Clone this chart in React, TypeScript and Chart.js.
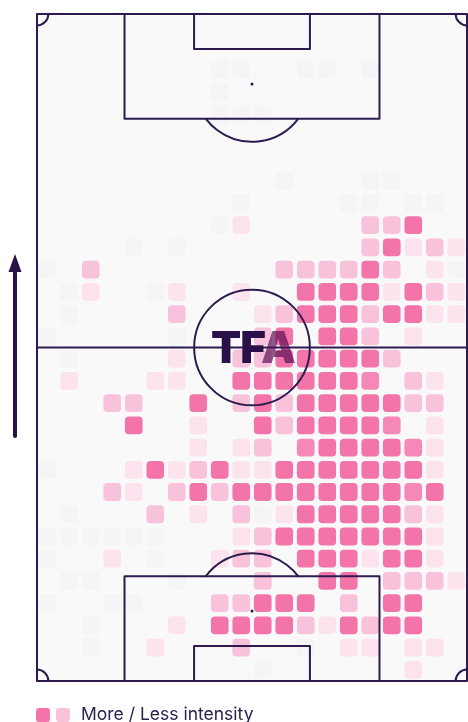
import { useEffect, useRef } from 'react';
import { Chart, registerables } from 'chart.js';

Chart.register(...registerables);

// Pitch dimensions (metres) and grid
const PITCH_WIDTH = 68;
const PITCH_LENGTH = 105;
const COLS = 20;
const ROWS = 30;

// Intensity per cell, rows top -> bottom, columns left -> right (0 = empty, 5 = most)
const intensityRows: number[][] = [
  [0,0,0,0,0,0,0,0,0,0,0,0,0,0,0,0,0,0,0,0],
  [0,0,0,0,0,0,0,0,0,0,0,0,0,0,0,0,0,0,0,0],
  [0,0,0,0,0,0,0,0,1,1,0,0,1,1,0,1,0,0,0,0],
  [0,0,0,0,0,0,0,0,1,0,0,0,0,0,0,0,0,0,0,0],
  [0,0,0,0,0,0,0,0,1,1,1,0,0,0,0,0,0,0,0,0],
  [0,0,0,0,0,0,0,0,0,0,0,0,0,0,0,0,0,0,0,0],
  [0,0,0,0,0,0,0,0,0,0,0,0,0,0,0,0,0,0,0,0],
  [0,0,0,0,0,0,0,0,0,0,0,1,0,0,0,1,1,0,0,0],
  [0,0,0,0,0,0,0,0,0,1,0,0,0,0,1,1,0,1,1,0],
  [0,0,0,0,0,0,0,0,1,2,0,0,0,0,0,3,3,5,0,0],
  [0,0,0,0,1,0,1,0,0,0,0,0,0,0,0,3,5,2,3,2],
  [1,0,3,0,0,0,0,0,0,0,0,3,3,3,3,5,3,0,2,1],
  [0,1,2,0,0,1,2,0,0,2,0,0,5,5,5,5,2,5,3,2],
  [0,1,0,0,0,0,3,0,0,0,2,3,5,5,5,3,5,5,2,2],
  [1,0,0,0,0,0,1,0,0,0,3,5,0,5,5,3,0,2,0,0],
  [0,1,0,0,0,0,2,0,0,3,3,5,5,5,5,5,3,0,0,0],
  [0,2,0,0,0,2,2,0,0,5,5,5,5,5,5,4,0,3,2,0],
  [0,0,0,3,3,0,0,5,0,3,5,3,5,5,5,5,5,3,3,0],
  [0,0,0,0,5,0,0,2,0,0,5,3,5,5,5,5,4,0,2,0],
  [0,0,0,0,0,0,0,2,0,2,3,0,4,5,5,5,5,4,2,0],
  [1,0,0,0,2,5,2,3,5,2,2,5,5,5,5,5,5,5,2,0],
  [0,0,0,3,2,0,3,5,3,5,5,5,5,5,5,5,5,4,5,0],
  [0,1,0,0,0,3,0,2,0,3,1,2,5,5,5,5,5,3,2,0],
  [1,1,1,1,1,1,0,0,0,2,3,5,5,5,5,5,5,5,2,0],
  [1,0,0,2,0,1,0,0,2,3,3,0,5,5,5,2,5,5,2,0],
  [0,1,1,0,0,0,1,0,0,0,3,0,0,5,5,0,3,3,3,2],
  [1,0,0,1,1,0,0,0,3,3,5,5,5,0,3,0,5,5,0,0],
  [0,0,1,0,0,0,2,0,5,5,5,5,3,2,5,3,5,5,0,0],
  [0,0,1,0,0,2,0,0,0,3,0,0,1,0,2,2,0,2,2,0],
  [0,0,0,0,0,0,0,0,0,0,1,0,0,0,0,0,0,2,0,0],
];

const levelColors = ['rgba(0,0,0,0)', '#f5f4f6', '#fce3ee', '#f9c2db', '#f588b7', '#f374a9'];
const legendColors = ['#f374a9', '#f9c2db'];
const legendLabel = 'More / Less intensity';
const logoLetters = ['T', 'F', 'A'];

const LINE = '#2d1b50';
const PITCH_BG = '#f9f9fa';

type Cell = { x: number; y: [number, number]; v: number };

function buildCells(): Cell[] {
  const cw = PITCH_WIDTH / COLS;
  const rh = PITCH_LENGTH / ROWS;
  const inset = 0.4;
  const cells: Cell[] = [];
  intensityRows.forEach((row, r) => {
    row.forEach((v, c) => {
      if (v > 0) {
        cells.push({ x: (c + 0.5) * cw, y: [r * rh + inset, (r + 1) * rh - inset], v });
      }
    });
  });
  return cells;
}

const pitchPlugin = {
  id: 'pitch',
  beforeDatasetsDraw(chart: any) {
    const { ctx, chartArea: a } = chart;
    ctx.save();
    ctx.fillStyle = PITCH_BG;
    ctx.fillRect(a.left, a.top, a.right - a.left, a.bottom - a.top);
    ctx.restore();
  },
  afterDatasetsDraw(chart: any) {
    const { ctx } = chart;
    const xs = chart.scales.x;
    const ys = chart.scales.y;
    const X = (v: number) => xs.getPixelForValue(v);
    const Y = (v: number) => ys.getPixelForValue(v);
    const m = (X(PITCH_WIDTH) - X(0)) / PITCH_WIDTH;
    const my = (Y(PITCH_LENGTH) - Y(0)) / PITCH_LENGTH;
    const cx = X(PITCH_WIDTH / 2);
    ctx.save();
    ctx.strokeStyle = LINE;
    ctx.fillStyle = LINE;
    ctx.lineWidth = 2;
    ctx.lineJoin = 'round';
    ctx.lineCap = 'round';

    // outline
    ctx.strokeRect(X(0), Y(0), X(PITCH_WIDTH) - X(0), Y(PITCH_LENGTH) - Y(0));
    // halfway line
    ctx.beginPath();
    ctx.moveTo(X(0), Y(PITCH_LENGTH / 2));
    ctx.lineTo(X(PITCH_WIDTH), Y(PITCH_LENGTH / 2));
    ctx.stroke();
    // centre circle
    ctx.beginPath();
    ctx.arc(cx, Y(PITCH_LENGTH / 2), 9.15 * m, 0, Math.PI * 2);
    ctx.stroke();

    const boxHalf = 20.16;
    const boxDepth = 16.5;
    const goalHalf = 9.16;
    const goalDepth = 5.5;
    const spot = 11;
    const arcR = 9.15 * m;

    [0, PITCH_LENGTH].forEach((end) => {
      const dir = end === 0 ? 1 : -1;
      // penalty box
      ctx.beginPath();
      ctx.moveTo(X(34 - boxHalf), Y(end));
      ctx.lineTo(X(34 - boxHalf), Y(end + dir * boxDepth));
      ctx.lineTo(X(34 + boxHalf), Y(end + dir * boxDepth));
      ctx.lineTo(X(34 + boxHalf), Y(end));
      ctx.stroke();
      // goal area
      ctx.beginPath();
      ctx.moveTo(X(34 - goalHalf), Y(end));
      ctx.lineTo(X(34 - goalHalf), Y(end + dir * goalDepth));
      ctx.lineTo(X(34 + goalHalf), Y(end + dir * goalDepth));
      ctx.lineTo(X(34 + goalHalf), Y(end));
      ctx.stroke();
      // penalty spot
      ctx.beginPath();
      ctx.arc(cx, Y(end + dir * spot), 1.5, 0, Math.PI * 2);
      ctx.fill();
      // penalty arc
      const a0 = Math.asin(((boxDepth - spot) * my) / arcR);
      ctx.beginPath();
      if (dir === 1) ctx.arc(cx, Y(end + spot), arcR, a0, Math.PI - a0);
      else ctx.arc(cx, Y(end - spot), arcR, Math.PI + a0, Math.PI * 2 - a0);
      ctx.stroke();
    });

    // corner arcs
    const cr = 1.8 * m;
    ctx.beginPath(); ctx.arc(X(0), Y(0), cr, 0, Math.PI / 2); ctx.stroke();
    ctx.beginPath(); ctx.arc(X(PITCH_WIDTH), Y(0), cr, Math.PI / 2, Math.PI); ctx.stroke();
    ctx.beginPath(); ctx.arc(X(0), Y(PITCH_LENGTH), cr, -Math.PI / 2, 0); ctx.stroke();
    ctx.beginPath(); ctx.arc(X(PITCH_WIDTH), Y(PITCH_LENGTH), cr, Math.PI, Math.PI * 1.5); ctx.stroke();
    ctx.restore();
  },
  afterDraw(chart: any) {
    // direction-of-play arrow
    const { ctx } = chart;
    ctx.save();
    ctx.strokeStyle = '#2a1246';
    ctx.fillStyle = '#2a1246';
    ctx.lineWidth = 4;
    ctx.lineCap = 'round';
    ctx.beginPath();
    ctx.moveTo(15, 436);
    ctx.lineTo(15, 268);
    ctx.stroke();
    ctx.beginPath();
    ctx.moveTo(15, 254);
    ctx.lineTo(21.5, 272);
    ctx.lineTo(8.5, 272);
    ctx.closePath();
    ctx.fill();
    ctx.restore();
  },
};

export default function App() {
  const ref = useRef<HTMLCanvasElement>(null);

  useEffect(() => {
    if (!ref.current) return;
    const cells = buildCells();
    const chart = new Chart(ref.current, {
      type: 'bar',
      data: {
        datasets: [
          {
            data: cells as any,
            backgroundColor: (ctx: any) => levelColors[ctx.raw ? ctx.raw.v : 0],
            borderRadius: 4,
            borderSkipped: false,
            borderWidth: 0,
            barThickness: 17,
            grouped: false,
          } as any,
        ],
      },
      options: {
        responsive: false,
        animation: false,
        devicePixelRatio: 1,
        layout: { padding: { left: 37, right: 1, top: 14, bottom: 41 } },
        scales: {
          x: { type: 'linear', min: 0, max: PITCH_WIDTH, display: false, offset: false },
          y: { type: 'linear', min: 0, max: PITCH_LENGTH, reverse: true, display: false },
        },
        plugins: {
          legend: { display: false },
          tooltip: { enabled: false },
        },
      },
      plugins: [pitchPlugin],
    });
    return () => chart.destroy();
  }, []);

  return (
    <div
      style={{
        position: 'fixed',
        left: 0,
        top: 0,
        width: 468,
        height: 722,
        background: '#ffffff',
        overflow: 'hidden',
      }}
    >
      <canvas
        ref={ref}
        width={468}
        height={722}
        style={{ position: 'absolute', left: 0, top: 0, width: 468, height: 722 }}
      />
      <div
        style={{
          position: 'absolute',
          left: 253,
          top: 347,
          transform: 'translate(-50%, -50%)',
          fontFamily: 'Inter, "DejaVu Sans", sans-serif',
          fontWeight: 900,
          fontSize: 44,
          lineHeight: 1,
          letterSpacing: -1,
          whiteSpace: 'nowrap',
        }}
      >
        <span style={{ color: '#2a1048' }}>{logoLetters[0]}</span>
        <span style={{ color: '#2a1048' }}>{logoLetters[1]}</span>
        <span style={{ color: 'rgba(90,12,80,0.68)' }}>{logoLetters[2]}</span>
      </div>
      <div
        style={{
          position: 'absolute',
          left: 36,
          top: 708,
          width: 14,
          height: 14,
          borderRadius: 3,
          background: legendColors[0],
        }}
      />
      <div
        style={{
          position: 'absolute',
          left: 56,
          top: 708,
          width: 14,
          height: 14,
          borderRadius: 3,
          background: legendColors[1],
        }}
      />
      <div
        style={{
          position: 'absolute',
          left: 81,
          top: 705,
          fontFamily: 'Inter, "Open Sans", sans-serif',
          fontSize: 17.5,
          lineHeight: '17.5px',
          color: '#2d2150',
          whiteSpace: 'nowrap',
        }}
      >
        {legendLabel}
      </div>
    </div>
  );
}
